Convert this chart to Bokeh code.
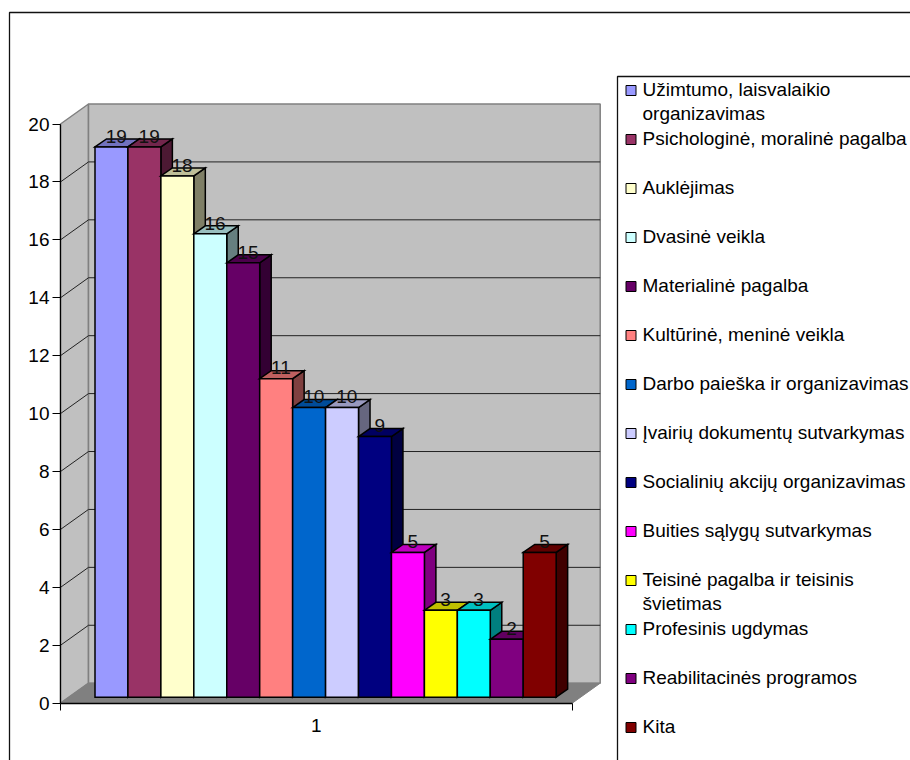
from bokeh.plotting import figure
from bokeh.models import Range1d, LinearAxis, FixedTicker, ColumnDataSource
from bokeh.core.properties import value
from bokeh.embed import file_html
from bokeh.resources import INLINE

CATEGORIES = ["Užimtumo, laisvalaikio\norganizavimas", "Psichologinė, moralinė pagalba", "Auklėjimas",
              "Dvasinė veikla", "Materialinė pagalba", "Kultūrinė, meninė veikla",
              "Darbo paieška ir organizavimas", "Įvairių dokumentų sutvarkymas",
              "Socialinių akcijų organizavimas", "Buities sąlygų sutvarkymas",
              "Teisinė pagalba ir teisinis\nšvietimas", "Profesinis ugdymas",
              "Reabilitacinės programos", "Kita"]
VALUES = [19, 19, 18, 16, 15, 11, 10, 10, 9, 5, 3, 3, 2, 5]
COLORS = ["#9999FF", "#993366", "#FFFFCC", "#CCFFFF", "#660066", "#FF8080", "#0066CC",
          "#CCCCFF", "#000080", "#FF00FF", "#FFFF00", "#00FFFF", "#800080", "#800000"]
Y_TICKS = [0, 2, 4, 6, 8, 10, 12, 14, 16, 18, 20]
X_LABEL = "1"
FONT = "Liberation Sans"
FS = "19px"

# layout calibration (page pixels; the canvas starts at the page corner)
PX_BAR0, PX_BAR_W = 94.5, 32.94
PY_ZERO, PX_UNIT = 702.7, 28.96
W, H = 910, 760
def X(px): return (px - PX_BAR0) / PX_BAR_W
def Y(py): return (PY_ZERO - py) / PX_UNIT

p = figure(width=W, height=H, output_backend="svg", toolbar_location=None,
           x_range=Range1d(X(0), X(W)), y_range=Range1d(Y(H), Y(0)),
           x_axis_type=None, y_axis_type=None, min_border=0, outline_line_color=None)
p.grid.visible = False
p.background_fill_color = "white"
p.border_fill_color = "white"

# frame of chart and legend
p.line([X(9), X(9), X(920)], [Y(770), Y(12), Y(12)], line_color="#111111", line_width=1.3)
p.line([X(617), X(617), X(920)], [Y(770), Y(76), Y(76)], line_color="#111111", line_width=1.3)

xl, xr = X(60), X(571.7)
ddx, ddy = 28 / PX_BAR_W, 20 / PX_UNIT
top = Y_TICKS[-1]

# walls and floor
p.patch([xl, xl + ddx, xl + ddx, xl], [0, ddy, top + ddy, top], fill_color="#C0C0C0", line_color="#808080", line_width=1.5)
p.patch([xl + ddx, xr + ddx, xr + ddx, xl + ddx], [ddy, ddy, top + ddy, top + ddy], fill_color="#C0C0C0", line_color="#808080", line_width=1.5)
for v in Y_TICKS[1:-1]:
    p.line([xl, xl + ddx, xr + ddx], [v, v + ddy, v + ddy], line_color="#222222", line_width=1)
p.patch([xl, xr, xr + ddx, xl + ddx], [0, 0, ddy, ddy], fill_color="#808080", line_color="#808080", line_width=1)

# 3-D bars
def shade(c, k):
    return "#%02X%02X%02X" % tuple(int(int(c[i:i + 2], 16) * k) for i in (1, 3, 5))

base = 6 / PX_UNIT
bdx, bdy = 11.5 / PX_BAR_W, 8 / PX_UNIT
xs, ys, fills = [], [], []
for i, (v, c) in enumerate(zip(VALUES, COLORS)):
    x0, x1, y0, y1 = i, i + 1, base, v + base
    xs += [[x1, x1 + bdx, x1 + bdx, x1], [x0, x0 + bdx, x1 + bdx, x1], [x0, x1, x1, x0]]
    ys += [[y0, y0 + bdy, y1 + bdy, y1], [y1, y1 + bdy, y1 + bdy, y1], [y0, y0, y1, y1]]
    fills += [shade(c, 0.5), shade(c, 0.75), c]
p.patches("xs", "ys", source=ColumnDataSource(dict(xs=xs, ys=ys, fill=fills)),
          fill_color="fill", line_color="black", line_width=1.5, line_join="miter")

# data labels
p.text([i + 0.5 + bdx / 2 - 0.03 for i in range(len(VALUES))], [v + base + 4.2 / PX_UNIT for v in VALUES],
       text=[str(v) for v in VALUES], text_align="center", text_baseline="bottom",
       text_font=value(FONT), text_font_size=FS, text_color="#111111")

# axes
ya = LinearAxis(ticker=FixedTicker(ticks=Y_TICKS), fixed_location=xl, bounds=(0, top),
                major_tick_in=0, major_tick_out=8, major_label_standoff=3,
                major_label_text_font=FONT, major_label_text_font_size=FS, major_label_text_color="black",
                axis_line_color="black", axis_line_width=1.2, major_tick_line_color="black", minor_tick_line_color=None)
p.add_layout(ya, "left")
xmid = (xl + xr) / 2
xa = LinearAxis(ticker=FixedTicker(ticks=[xmid], minor_ticks=[xl, xr]), fixed_location=0, bounds=(xl, xr),
                major_label_overrides={xmid: X_LABEL}, major_tick_line_color=None,
                minor_tick_in=0, minor_tick_out=7, minor_tick_line_color="black", major_tick_out=7, major_tick_in=0,
                major_label_standoff=9,
                major_label_text_font=FONT, major_label_text_font_size=FS, major_label_text_color="black",
                axis_line_color="black", axis_line_width=1.5)
p.add_layout(xa, "below")

# legend
ROW0, PITCH, LINE = 90, 49, 24
p.scatter([X(630.5)] * len(COLORS), [Y(ROW0 + PITCH * i) for i in range(len(COLORS))], marker="square", size=10,
          fill_color=COLORS, line_color="black", line_width=1)
tx, ty, tt = [], [], []
for i, name in enumerate(CATEGORIES):
    for j, part in enumerate(name.split("\n")):
        tx.append(X(642)); ty.append(Y(ROW0 + PITCH * i + LINE * j - 1.5)); tt.append(part)
p.text(tx, ty, text=tt, text_align="left", text_baseline="middle", text_font=value(FONT),
       text_font_size=FS, text_color="black")

open("out.html", "w").write(file_html(p, INLINE))
